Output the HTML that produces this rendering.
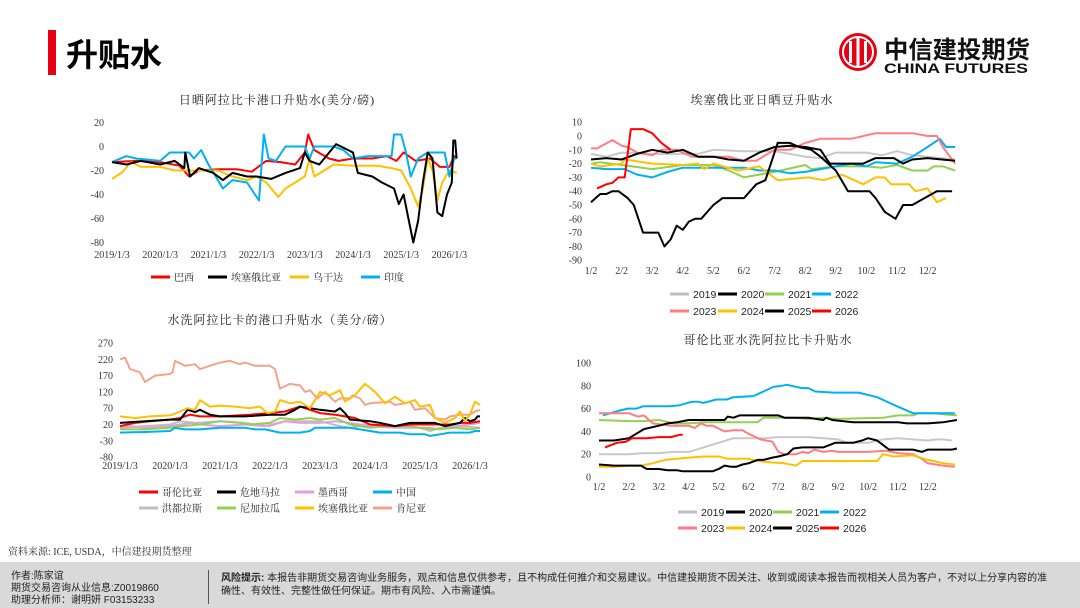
<!DOCTYPE html>
<html><head><meta charset="utf-8"><style>
body{margin:0;width:1080px;height:608px;overflow:hidden;background:#fff;font-family:"Liberation Sans","Noto Sans CJK SC",sans-serif;position:relative}
svg{position:absolute;left:0;top:0}
.t{font-family:"Liberation Serif","Noto Serif CJK SC",serif;font-size:10px;fill:#333}
.ct{font-family:"Liberation Serif","Noto Serif CJK SC",serif;font-size:12px;fill:#222;letter-spacing:1px}
.lg{font-family:"Liberation Serif","Noto Serif CJK SC",serif;font-size:10px;fill:#222}
.lgs{font-family:"Liberation Sans",sans-serif;font-size:10.5px;fill:#222}
#footer{position:absolute;left:0;top:562px;width:1080px;height:46px;background:#d9d9d9}
</style></head><body>
<svg id="page" width="1080" height="608">
 <rect x="48" y="30" width="8" height="45" fill="#e60012"/>
 <text x="66" y="66" font-size="32" font-weight="bold" fill="#000" font-family="Liberation Sans,Noto Sans CJK SC,sans-serif">升贴水</text>
 <g>
  <circle cx="858" cy="52" r="19" fill="#e60012"/>
  <circle cx="858" cy="52" r="15" fill="none" stroke="#fff" stroke-width="2"/>
  <rect x="849" y="41" width="3" height="22" fill="#fff"/><rect x="856.5" y="38" width="3" height="28" fill="#fff"/><rect x="864" y="41" width="3" height="22" fill="#fff"/>
  <text x="884" y="58" font-size="24" font-weight="bold" fill="#111" font-family="Noto Sans CJK SC,sans-serif" textLength="146" lengthAdjust="spacingAndGlyphs">中信建投期货</text>
  <text x="884" y="73" font-size="13.5" font-weight="bold" fill="#111" font-family="Liberation Sans,sans-serif" textLength="144" lengthAdjust="spacingAndGlyphs">CHINA FUTURES</text>
 </g>
 <text class="ct" x="277" y="104" text-anchor="middle">日晒阿拉比卡港口升贴水(美分/磅)</text>
 <text class="ct" x="762" y="104" text-anchor="middle">埃塞俄比亚日晒豆升贴水</text>
 <text class="ct" x="280" y="324" text-anchor="middle">水洗阿拉比卡的港口升贴水（美分/磅）</text>
 <text class="ct" x="768" y="344" text-anchor="middle">哥伦比亚水洗阿拉比卡升贴水</text>
 <g id="c1"></g><g id="c2"></g><g id="c3"></g><g id="c4"></g>
 <text x="8" y="555" font-size="10" fill="#333" font-family="Liberation Serif,Noto Serif CJK SC,serif">资料来源: ICE, USDA，中信建投期货整理</text>
</svg>
<div id="footer">
 <div style="position:absolute;left:11px;top:9px;font-size:10px;line-height:12px;color:#222">作者:陈家谊<br>期货交易咨询从业信息:Z0019860<br>助理分析师：谢明妍 F03153233</div>
 <div style="position:absolute;left:208px;top:8px;width:1px;height:34px;background:#555"></div>
 <div style="position:absolute;left:221px;top:10px;font-size:10px;line-height:13px;color:#222;width:828px"><b>风险提示:</b> 本报告非期货交易咨询业务服务，观点和信息仅供参考，且不构成任何推介和交易建议。中信建投期货不因关注、收到或阅读本报告而视相关人员为客户，不对以上分享内容的准确性、有效性、完整性做任何保证。期市有风险、入市需谨慎。</div>
</div>
<script>
// ===== Chart 1: natural arabica basis (years since 2019/1/3) =====
const c1Ticks=[20,0,-20,-40,-60,-80];
const c1XLabels=["2019/1/3","2020/1/3","2021/1/3","2022/1/3","2023/1/3","2024/1/3","2025/1/3","2026/1/3"];
const c1BrazilX=[0,0.5,1.0,1.4,1.6,1.8,2.2,2.6,2.9,3.2,3.5,3.8,4.0,4.07,4.2,4.5,4.7,5.0,5.4,5.7,5.9,6.05,6.3,6.6,6.8,7.0,7.1,7.15];
const c1BrazilY=[-13,-12,-13,-16,-25,-20,-19,-19,-21,-12,-13,-15,-5,10,-3,-10,-12,-10,-10,-8,-12,-5,-12,-10,-17,-17,-8,-9];
const c1EthX=[0,0.3,0.6,1.0,1.3,1.5,1.52,1.62,1.8,2.1,2.3,2.5,2.8,3.0,3.3,3.6,3.9,4.0,4.1,4.3,4.65,4.75,5.0,5.1,5.4,5.6,5.85,5.95,6.05,6.15,6.25,6.35,6.45,6.55,6.65,6.75,6.85,6.95,7.05,7.08,7.12,7.15];
const c1EthY=[-13,-15,-12,-15,-12,-18,-5,-25,-18,-22,-28,-22,-25,-25,-27,-22,-18,-5,-12,-15,2,0,-5,-22,-25,-30,-35,-48,-40,-60,-80,-62,-30,-5,-10,-55,-58,-40,-30,5,5,-10];
const c1UgX=[0,0.2,0.4,0.6,1.0,1.3,1.8,2.2,2.5,2.8,3.0,3.2,3.45,3.6,3.8,4.0,4.1,4.2,4.4,4.6,5.0,5.5,5.8,6.0,6.2,6.35,6.45,6.55,6.65,6.75,6.85,7.0,7.15];
const c1UgY=[-27,-22,-13,-17,-17,-20,-20,-20,-25,-28,-25,-30,-42,-35,-30,-25,-10,-25,-20,-15,-16,-16,-18,-20,-35,-50,-35,-10,-20,-45,-30,-20,-22];
const c1IndX=[0,0.3,0.5,1.0,1.2,1.6,1.7,1.85,2.0,2.3,2.5,2.8,3.05,3.15,3.25,3.4,3.6,4.0,4.1,4.2,4.6,4.8,5.0,5.3,5.8,5.85,6.0,6.1,6.2,6.35,6.55,6.9,7.0,7.1,7.15];
const c1IndY=[-13,-8,-10,-12,-5,-5,-10,-3,-15,-35,-28,-30,-45,10,-10,-12,0,0,-10,0,0,-3,-10,-8,-8,10,10,-5,-25,-10,-5,-5,-25,-10,-10];

// ===== Chart 2: Ethiopia natural basis by month index (0 = 1/2) =====
const c2Ticks=[10,0,-10,-20,-30,-40,-50,-60,-70,-80,-90];
const c2XLabels=["1/2","2/2","3/2","4/2","5/2","6/2","7/2","8/2","9/2","10/2","11/2","12/2"];
const c2Y2019X=[0,0.5,1,2,3,3.5,4,5,6,7,7.5,8,9,9.5,10,10.5,11,11.9];
const c2Y2019V=[-13,-15,-12,-13,-13,-13,-10,-11,-11,-15,-16,-12,-12,-14,-11,-14,-15,-17];
const c2Y2020X=[0,0.5,1,1.5,2,2.5,3,3.5,4,4.5,5,5.5,6,6.5,7,7.5,7.8,8.9,9.3,9.9,10.2,10.5,11,11.9];
const c2Y2020V=[-17,-16,-17,-13,-10,-12,-10,-15,-15,-17,-18,-12,-8,-7,-8,-10,-20,-20,-16,-16,-20,-17,-16,-18];
const c2Y2021X=[0,0.3,1,2,3,4,4.5,5,5.5,6,7,7.2,8,9,9.5,10,10.5,11,11.2,11.5,11.9];
const c2Y2021V=[-20,-19,-21,-24,-21,-21,-25,-30,-28,-26,-21,-24,-22,-22,-23,-21,-25,-25,-22,-22,-25];
const c2Y2022X=[0,0.5,1.1,1.5,2,2.5,3,4,5,5.5,6,6.5,7,8,8.5,9,9.3,10,10.5,11,11.4,11.6,11.9];
const c2Y2022V=[-23,-24,-24,-28,-30,-26,-23,-23,-23,-25,-25,-27,-26,-22,-20,-22,-19,-20,-15,-8,-2,-8,-8];
const c2Y2023X=[0,0.2,0.7,1,1.2,1.5,2,2.3,2.8,3.3,4.5,5,5.4,6,6.5,7,7.5,8.5,9.3,10,10.5,11,11.3,11.5,11.9];
const c2Y2023V=[-9,-9,-3,-7,-8,-12,-14,-10,-10,-15,-15,-18,-18,-10,-10,-5,-2,-2,2,2,2,0,0,-8,-20];
const c2Y2024X=[0,0.3,1,1.1,1.4,2,3,3.5,3.7,4,4.8,5.5,5.8,6.1,7.1,7.6,8.2,8.9,9.3,9.6,9.8,10.4,10.6,11,11.3,11.6];
const c2Y2024V=[-20,-22,-20,-17,-18,-20,-21,-20,-24,-20,-25,-22,-27,-32,-30,-32,-28,-35,-30,-30,-35,-35,-40,-38,-48,-45];
const c2Y2025X=[0,0.3,0.5,0.7,0.9,1.2,1.4,1.7,2.2,2.4,2.6,2.8,3.0,3.2,3.4,3.6,3.8,4.0,4.3,5.0,5.2,5.4,5.7,6.1,6.5,6.8,7.2,7.5,8.0,8.4,9.1,9.3,9.6,9.95,10.2,10.5,10.9,11.3,11.8];
const c2Y2025V=[-48,-42,-42,-40,-40,-45,-50,-70,-70,-80,-75,-65,-68,-62,-60,-60,-55,-50,-45,-45,-40,-35,-32,-5,-5,-8,-10,-15,-25,-40,-40,-45,-55,-60,-50,-50,-45,-40,-40];
const c2Y2026X=[0.2,0.5,0.7,0.9,1.1,1.3,1.7,2.0,2.3,2.6];
const c2Y2026V=[-38,-35,-34,-30,-30,5,5,2,-5,-10];

// ===== Chart 3: washed arabica basis (years since 2019/1/3) =====
const c3Ticks=[270,220,170,120,70,20,-30,-80];
const c3XLabels=["2019/1/3","2020/1/3","2021/1/3","2022/1/3","2023/1/3","2024/1/3","2025/1/3","2026/1/3"];
const c3HonX=[0,0.5,1.0,1.2,1.5,2.0,2.5,2.7,3.0,3.3,3.6,4.0,4.4,4.6,5.0,5.5,6.0,6.2,6.4,6.8,7.2];
const c3HonY=[10,15,20,30,25,30,25,20,15,30,30,30,15,10,20,15,10,0,10,15,10];
const c3NicX=[0,0.5,1.0,1.2,1.6,2.0,2.4,2.6,3.0,3.2,3.5,3.8,4.0,4.3,4.6,5.0,5.3,5.8,6.0,6.3,6.7,7.0,7.2];
const c3NicY=[5,5,10,15,20,30,25,20,25,40,35,40,35,40,20,10,15,15,10,5,10,5,10];
const c3MexX=[0,0.2,0.5,1.0,1.4,1.6,2.0,2.5,2.9,3.3,3.6,4.0,4.3,4.6,5.0,5.5,6.2,6.4,6.7,7.0,7.2];
const c3MexY=[10,15,10,15,25,20,15,20,15,30,25,25,30,25,15,10,10,5,15,20,25];
const c3ChinaX=[0,0.5,1.0,1.1,1.3,1.6,2.0,2.5,2.7,2.9,3.2,3.6,3.8,3.9,4.6,5.0,5.2,5.6,5.8,6.1,6.2,6.4,6.6,7.0,7.1,7.2];
const c3ChinaY=[-5,-3,0,10,5,5,10,10,5,5,-5,-5,0,10,10,0,-5,-5,-10,-10,-15,-10,-5,-5,0,0];
const c3ColX=[0,0.3,0.6,1.0,1.2,1.4,1.6,2.0,2.6,3.0,3.3,3.6,3.8,4.0,4.3,4.5,4.7,5.0,5.5,5.8,6.3,6.6,6.8,7.0,7.2];
const c3ColY=[15,25,30,35,40,50,45,45,50,55,60,75,65,55,50,45,40,20,15,20,20,20,25,25,30];
const c3GuaX=[0,0.5,1.0,1.2,1.35,1.5,1.6,1.8,2.0,2.5,3.0,3.3,3.5,3.6,3.8,4.0,4.3,4.4,4.5,4.6,5.0,5.2,5.5,5.8,6.3,6.5,6.8,6.9,7.0,7.1,7.15,7.2];
const c3GuaY=[25,30,35,35,65,58,65,50,45,45,50,50,65,75,70,65,60,70,55,35,30,25,15,25,25,15,25,40,30,35,45,45];
const c3EthX=[0,0.3,0.6,1.0,1.2,1.35,1.5,1.6,1.8,2.0,2.3,2.6,2.8,2.95,3.1,3.2,3.4,3.6,3.8,4.0,4.2,4.4,4.5,4.7,4.9,5.1,5.3,5.5,5.7,5.9,6.0,6.2,6.3,6.5,6.7,6.8,6.9,7.0,7.1,7.2];
const c3EthY=[45,40,45,48,60,70,65,95,75,78,75,70,75,55,60,95,85,90,70,120,110,125,90,110,145,120,85,105,85,95,75,80,40,25,40,60,30,50,90,80];
const c3KenX=[0,0.1,0.2,0.4,0.5,0.7,1.0,1.05,1.1,1.3,1.5,1.6,1.8,2.0,2.2,2.4,2.5,2.7,3.0,3.1,3.2,3.4,3.6,3.7,3.8,3.95,4.1,4.3,4.4,4.6,4.65,4.8,4.9,5.0,5.4,5.5,5.7,5.8,5.9,6.1,6.3,6.5,6.6,6.8,7.0,7.1,7.2];
const c3KenY=[220,225,190,180,150,170,175,180,215,200,205,190,200,210,215,205,210,200,200,190,130,145,140,120,125,100,120,90,100,100,110,100,80,85,90,80,85,90,65,70,40,35,45,50,50,60,65];

// ===== Chart 4: Colombia washed basis by month index (0 = 1/2) =====
const c4Ticks=[100,80,60,40,20,0];
const c4XLabels=["1/2","2/2","3/2","4/2","5/2","6/2","7/2","8/2","9/2","10/2","11/2","12/2"];
const c4Y2019X=[0,1,1.5,2,2.5,3,3.5,4,4.5,5,5.5,6,7,7.5,8,8.3,9,9.5,10,10.5,11,11.3,11.5,11.8];
const c4Y2019V=[20,20,21,21,22,22,26,30,34,34,34,35,35,34,33,30,30,33,34,33,32,33,33,32];
const c4Y2020X=[0,0.5,1,1.5,2,2.3,2.6,3,4,4.2,4.3,4.5,4.7,5.5,6,6.2,7,7.5,7.6,7.8,8.5,10,10.3,11,11.5,11.97];
const c4Y2020V=[32,32,34,42,45,47,48,50,50,50,53,52,54,54,54,52,52,50,52,50,48,48,47,47,48,50];
const c4Y2021X=[0,1,1.5,2,2.5,3,3.5,4.5,5.3,5.5,6.5,7,7.5,8,9.5,10,10.5,10.7,11.2,11.5,11.97];
const c4Y2021V=[50,49,49,50,47,47,48,48,48,52,52,51,52,51,52,54,54,56,56,55,54];
const c4Y2022X=[0.13,0.64,0.97,1.25,1.47,2.37,2.70,3.09,3.32,3.49,3.93,4.27,4.49,5.16,5.50,5.83,6.11,6.28,6.78,7.0,7.23,7.84,8.68,9.30,9.97,10.5,11.9];
const c4Y2022V=[54,58,60,60,62,62,63,66,66,65,68,68,70,71,75,79,80,81,78,78,75,74,74,70,62,56,56];
const c4Y2023X=[0,1,1.3,1.5,1.8,2.4,3.0,3.2,3.4,3.6,3.8,4.2,4.5,4.8,5.0,5.4,5.8,6.0,6.2,6.6,6.8,7.0,7.2,7.5,7.8,8.0,9.0,9.6,10.0,10.5,10.8,11.0,11.5,11.9];
const c4Y2023V=[56,56,53,54,47,45,45,43,47,45,45,40,41,41,38,33,31,22,20,20,22,21,24,22,23,22,22,23,21,20,16,12,10,9];
const c4Y2024X=[0,0.5,1,1.4,1.8,2.2,2.6,3.0,3.5,4.0,4.3,5.0,5.3,5.7,6.2,6.6,6.8,8.0,9.3,9.5,9.85,10.5,11.0,11.2,11.5,11.9];
const c4Y2024V=[9,9,10,10,12,15,16,17,18,18,16,16,14,13,12,10,14,14,14,20,18,19,15,14,12,11];
const c4Y2025X=[0,0.5,1.4,1.6,2.0,2.3,2.6,2.8,3.8,4.0,4.2,4.4,4.6,4.8,5.0,5.3,5.5,5.8,6.0,6.3,6.5,6.8,7.5,7.9,8.5,8.8,9.0,9.3,9.7,10.5,10.8,11.0,11.8,11.97];
const c4Y2025V=[11,10,10,7,7,6,6,5,5,7,10,9,9,11,12,15,15,17,18,20,25,26,26,30,30,32,34,32,24,24,22,24,24,25];
const c4Y2026X=[0.2,0.6,0.9,1.1,1.6,2.0,2.4,2.7,2.8];
const c4Y2026V=[26,30,31,34,34,35,35,37,37];

const NS="http://www.w3.org/2000/svg";
function mk(tag,attrs,parent){const e=document.createElementNS(NS,tag);for(const k in attrs)e.setAttribute(k,attrs[k]);parent.appendChild(e);return e;}
function drawSeries(g,xs,ys,sx,sy,color,name){
  let d="";
  for(let i=0;i<xs.length;i++){d+=(i?"L":"M")+sx(xs[i]).toFixed(1)+","+sy(ys[i]).toFixed(1);}
  const p=mk("path",{d:d,fill:"none",stroke:color,"stroke-width":2,"stroke-linejoin":"round"},g);
  
  
}
function yTicks(g,ticks,sy,x,name){
  ticks.forEach(t=>{const e=mk("text",{x:x,y:sy(t)+3.5,"text-anchor":"end",class:"t"},g);e.textContent=t;
    
    });
}
function xTicks(g,labels,sx,y,name){
  labels.forEach((l,i)=>{const e=mk("text",{x:sx(i),y:y,"text-anchor":"middle",class:"t"},g);e.textContent=l;
    
    });
}
function legend(g,items,cls){
  items.forEach(it=>{
    const l=mk("line",{x1:it[0],x2:it[0]+19,y1:it[1],y2:it[1],stroke:it[3],"stroke-width":3},g);
    
    
    const t=mk("text",{x:it[0]+23,y:it[1]+4,class:cls},g);t.textContent=it[2];
    
    
  });
}
const RED="#ff0000",BLK="#000000",YEL="#ffc000",BLU="#00b0f0",GRY="#bfbfbf",GRN="#92d050",PNK="#ff7c80",SAL="#f4a38a",VIO="#e39ee0";

// chart 1
(function(){
  const g=document.getElementById("c1");
  
  
  const sx=v=>112+v*48.2, sy=v=>122.5+(20-v)*1.2;
  yTicks(g,c1Ticks,sy,104,"y-tick-label");
  xTicks(g,c1XLabels,sx,258,"x-tick-label");
  drawSeries(g,c1BrazilX,c1BrazilY,sx,sy,RED,"series-brazil");
  drawSeries(g,c1UgX,c1UgY,sx,sy,YEL,"series-uganda");
  drawSeries(g,c1IndX,c1IndY,sx,sy,BLU,"series-india");
  drawSeries(g,c1EthX,c1EthY,sx,sy,BLK,"series-ethiopia");
  legend(g,[[151,277,"巴西",RED],[208,277,"埃塞俄比亚",BLK],[290,277,"乌干达",YEL],[361,277,"印度",BLU]],"lg");
})();
// chart 2
(function(){
  const g=document.getElementById("c2");
  
  
  const sx=v=>591+v*30.6, sy=v=>136-v*1.38;
  yTicks(g,c2Ticks,sy,582,"y-tick-label");
  xTicks(g,c2XLabels,sx,274,"x-tick-label");
  drawSeries(g,c2Y2019X,c2Y2019V,sx,sy,"#c8c8c8","series-2019");
  drawSeries(g,c2Y2021X,c2Y2021V,sx,sy,GRN,"series-2021");
  drawSeries(g,c2Y2022X,c2Y2022V,sx,sy,BLU,"series-2022");
  drawSeries(g,c2Y2024X,c2Y2024V,sx,sy,YEL,"series-2024");
  drawSeries(g,c2Y2023X,c2Y2023V,sx,sy,PNK,"series-2023");
  drawSeries(g,c2Y2020X,c2Y2020V,sx,sy,BLK,"series-2020");
  drawSeries(g,c2Y2025X,c2Y2025V,sx,sy,BLK,"series-2025");
  drawSeries(g,c2Y2026X,c2Y2026V,sx,sy,RED,"series-2026");
  legend(g,[[670,294,"2019",GRY],[718,294,"2020",BLK],[765,294,"2021",GRN],[812,294,"2022",BLU],
            [670,311,"2023",PNK],[718,311,"2024",YEL],[765,311,"2025",BLK],[812,311,"2026",RED]],"lgs");
})();
// chart 3
(function(){
  const g=document.getElementById("c3");
  
  
  const sx=v=>120+v*50, sy=v=>343+(270-v)*0.326;
  yTicks(g,c3Ticks,sy,113,"y-tick-label");
  xTicks(g,c3XLabels,sx,469,"x-tick-label");
  drawSeries(g,c3KenX,c3KenY,sx,sy,SAL,"series-kenya");
  drawSeries(g,c3HonX,c3HonY,sx,sy,GRY,"series-honduras");
  drawSeries(g,c3MexX,c3MexY,sx,sy,VIO,"series-mexico");
  drawSeries(g,c3NicX,c3NicY,sx,sy,GRN,"series-nicaragua");
  drawSeries(g,c3ChinaX,c3ChinaY,sx,sy,BLU,"series-china");
  drawSeries(g,c3ColX,c3ColY,sx,sy,RED,"series-colombia");
  drawSeries(g,c3GuaX,c3GuaY,sx,sy,BLK,"series-guatemala");
  drawSeries(g,c3EthX,c3EthY,sx,sy,YEL,"series-ethiopia");
  legend(g,[[139,492,"哥伦比亚",RED],[217,492,"危地马拉",BLK],[295,492,"墨西哥",VIO],[373,492,"中国",BLU],
            [139,508,"洪都拉斯",GRY],[217,508,"尼加拉瓜",GRN],[295,508,"埃塞俄比亚",YEL],[373,508,"肯尼亚",SAL]],"lg");
})();
// chart 4
(function(){
  const g=document.getElementById("c4");
  
  
  const sx=v=>599+v*29.9, sy=v=>363+(100-v)*1.14;
  yTicks(g,c4Ticks,sy,591,"y-tick-label");
  xTicks(g,c4XLabels,sx,490,"x-tick-label");
  drawSeries(g,c4Y2019X,c4Y2019V,sx,sy,"#c8c8c8","series-2019");
  drawSeries(g,c4Y2021X,c4Y2021V,sx,sy,GRN,"series-2021");
  drawSeries(g,c4Y2022X,c4Y2022V,sx,sy,BLU,"series-2022");
  drawSeries(g,c4Y2023X,c4Y2023V,sx,sy,PNK,"series-2023");
  drawSeries(g,c4Y2024X,c4Y2024V,sx,sy,YEL,"series-2024");
  drawSeries(g,c4Y2020X,c4Y2020V,sx,sy,BLK,"series-2020");
  drawSeries(g,c4Y2025X,c4Y2025V,sx,sy,BLK,"series-2025");
  drawSeries(g,c4Y2026X,c4Y2026V,sx,sy,RED,"series-2026");
  legend(g,[[678,512,"2019",GRY],[726,512,"2020",BLK],[773,512,"2021",GRN],[820,512,"2022",BLU],
            [678,528,"2023",PNK],[726,528,"2024",YEL],[773,528,"2025",BLK],[820,528,"2026",RED]],"lgs");
})();
</script>
</body></html>
